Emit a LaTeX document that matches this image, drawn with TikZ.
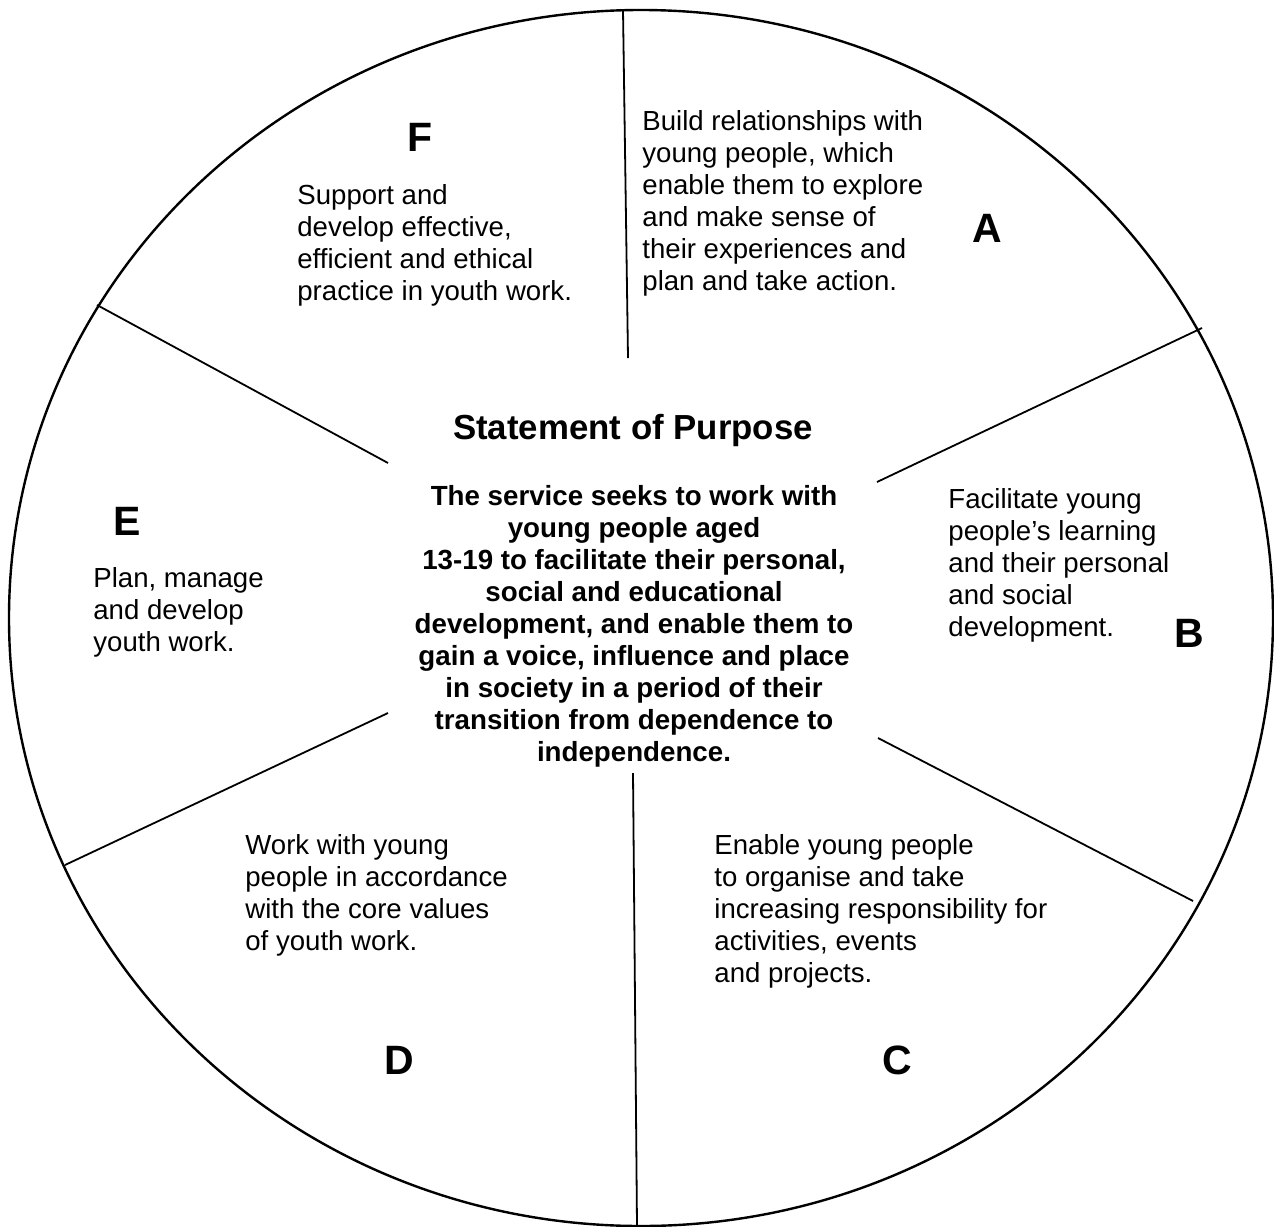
\documentclass[tikz,border=0pt]{standalone}
\usepackage{fontspec}
\setmainfont{Liberation Sans}
\usetikzlibrary{positioning}

\begin{document}
\begin{tikzpicture}[x=0.5pt,y=-0.5pt,
    spoke/.style={line width=0.9pt},
    aim/.style={align=left,anchor=north west,inner sep=0pt,font=\fontsize{13.8}{16}\selectfont},
    letter/.style={inner sep=0pt,font=\fontsize{20.5}{22}\selectfont\bfseries}]

    \useasboundingbox (0,0) rectangle (1274,1226);

    % the wheel
    \draw[line width=1.2pt] (641,618) ellipse [x radius=316pt, y radius=304pt];

    \coordinate (tA) at (623,10);   \coordinate (hA) at (628,358);
    \coordinate (tB) at (1202,328); \coordinate (hB) at (877,482);
    \coordinate (tC) at (1193,901); \coordinate (hC) at (878,738);
    \coordinate (tD) at (637,1226); \coordinate (hD) at (633,773);
    \coordinate (tE) at (65,865);   \coordinate (hE) at (388,713);
    \coordinate (tF) at (97,305);   \coordinate (hF) at (388,463);

    \foreach \s in {A,B,C,D,E,F}
      \draw[spoke] (h\s) -- (t\s);

    % hub
    \node[font=\fontsize{17.4}{20}\selectfont\bfseries] (title) at (633,430) {Statement of Purpose};
    \node[align=center,anchor=north,inner sep=0pt,font=\fontsize{13.85}{16}\selectfont\bfseries] (purpose) at (634,485) {%
      The service seeks to work with\\
      young people aged\\
      13-19 to facilitate their personal,\\
      social and educational\\
      development, and enable them to\\
      gain a voice, influence and place\\
      in society in a period of their\\
      transition from dependence to\\
      independence.};

    % segments
    \node[aim] (aimA) at (642,110) {Build relationships with\\
      young people, which\\
      enable them to explore\\
      and make sense of\\
      their experiences and\\
      plan and take action.};
    \node[letter] (A) at (987,228) {A};

    \node[aim] (aimB) at (948,488) {Facilitate young\\
      people’s learning\\
      and their personal\\
      and social\\
      development.};
    \node[letter] (B) at (1189,633) {B};

    \node[aim] (aimC) at (714,834) {Enable young people\\
      to organise and take\\
      increasing responsibility for\\
      activities, events\\
      and projects.};
    \node[letter] (C) at (897,1060) {C};

    \node[aim] (aimD) at (245,834) {Work with young\\
      people in accordance\\
      with the core values\\
      of youth work.};
    \node[letter] (D) at (399,1060) {D};

    \node[aim] (aimE) at (93,567) {Plan, manage\\
      and develop\\
      youth work.};
    \node[letter] (E) at (127,521) {E};

    \node[aim] (aimF) at (297,184) {Support and\\
      develop effective,\\
      efficient and ethical\\
      practice in youth work.};
    \node[letter] (F) at (420,137) {F};

\end{tikzpicture}
\end{document}
